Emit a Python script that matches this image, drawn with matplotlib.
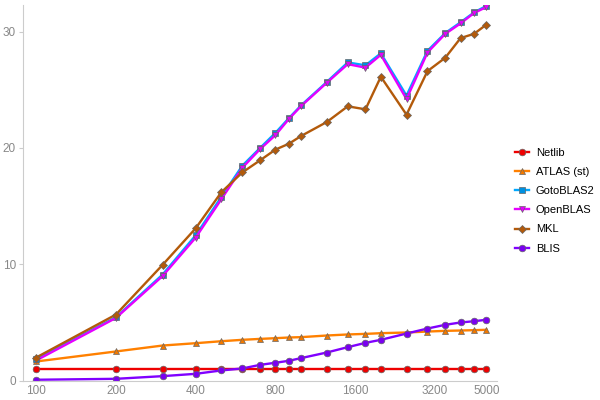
import matplotlib
matplotlib.use("Agg")
import matplotlib.pyplot as plt
from matplotlib.ticker import FixedLocator, NullLocator

plt.rcParams["font.family"] = ["Liberation Sans", "DejaVu Sans"]

# Matrix sizes (x axis, log2 scale)
sizes = [100, 200, 300, 400, 500, 600, 700, 800, 900, 1000,
         1250, 1500, 1750, 2000, 2500, 3000, 3500, 4000, 4500, 5000]

netlib = [1.0] * 20
atlas = [1.66, 2.52, 3.03, 3.23, 3.40, 3.52, 3.60, 3.66, 3.72, 3.75,
         3.89, 3.98, 4.03, 4.09, 4.15, 4.23, 4.29, 4.32, 4.35, 4.38]
gotoblas = [1.86, 5.46, 9.13, 12.5, 15.8, 18.48, 20.0, 21.3, 22.57, 23.66,
            25.67, 27.35, 27.1, 28.13, 24.5, 28.35, 29.87, 30.8, 31.65, 32.2]
openblas = [1.75, 5.4, 9.0, 12.3, 15.6, 18.3, 19.9, 21.1, 22.5, 23.6,
            25.6, 27.2, 26.9, 28.0, 24.2, 28.2, 29.8, 30.7, 31.6, 32.1]
mkl = [2.0, 5.69, 9.96, 13.1, 16.2, 17.9, 18.94, 19.86, 20.37, 21.03,
       22.23, 23.58, 23.32, 26.12, 22.86, 26.6, 27.75, 29.44, 29.81, 30.59]
blis = [0.09, 0.17, 0.4, 0.6, 0.89, 1.06, 1.37, 1.55, 1.72, 1.95,
        2.43, 2.89, 3.26, 3.52, 4.06, 4.49, 4.81, 5.01, 5.12, 5.24]

x_ticks = [100, 200, 400, 800, 1600, 3200, 5000]
y_ticks = [0, 10, 20, 30]

series = [
    ("Netlib", netlib, "#ee0000", "#ee0000", "o"),
    ("ATLAS (st)", atlas, "#ff8000", "#f07800", "^"),
    ("GotoBLAS2", gotoblas, "#00a8ff", "#0090e0", "s"),
    ("OpenBLAS", openblas, "#e600ff", "#e600ff", "v"),
    ("MKL", mkl, "#b35a0a", "#b35a0a", "D"),
    ("BLIS", blis, "#8000ff", "#7a00f0", "o"),
]

fig = plt.figure(figsize=(6, 4), dpi=100)
ax = fig.add_axes([0.038, 0.048, 0.79, 0.94])

for name, vals, lc, mc, mk in series:
    ms = 4.0 if mk == "D" else 4.8
    ax.plot(sizes, vals, color=lc, lw=1.7, marker=mk, markersize=ms,
            markerfacecolor=mc, markeredgecolor="#666666", markeredgewidth=0.5,
            label=name)

ax.set_xscale("log", base=2)
ax.set_xlim(89, 5480)
ax.set_ylim(0, 32.3)
ax.xaxis.set_major_locator(FixedLocator(x_ticks))
ax.xaxis.set_minor_locator(NullLocator())
ax.set_xticklabels([str(t) for t in x_ticks])
ax.set_yticks(y_ticks)

for side in ["top", "right"]:
    ax.spines[side].set_visible(False)
for side in ["left", "bottom"]:
    ax.spines[side].set_color("#cccccc")
ax.tick_params(axis="both", colors="#cccccc", labelcolor="#888888", labelsize=8.5)
ax.tick_params(axis="x", length=0, pad=3)
ax.tick_params(axis="y", length=3, pad=2)

leg = fig.legend(loc="upper left", bbox_to_anchor=(0.858, 0.63), frameon=False,
                 fontsize=8, handlelength=1.3, handletextpad=0.6,
                 labelspacing=0.82, borderpad=0, borderaxespad=0)

fig.savefig("out.png", dpi=100)
